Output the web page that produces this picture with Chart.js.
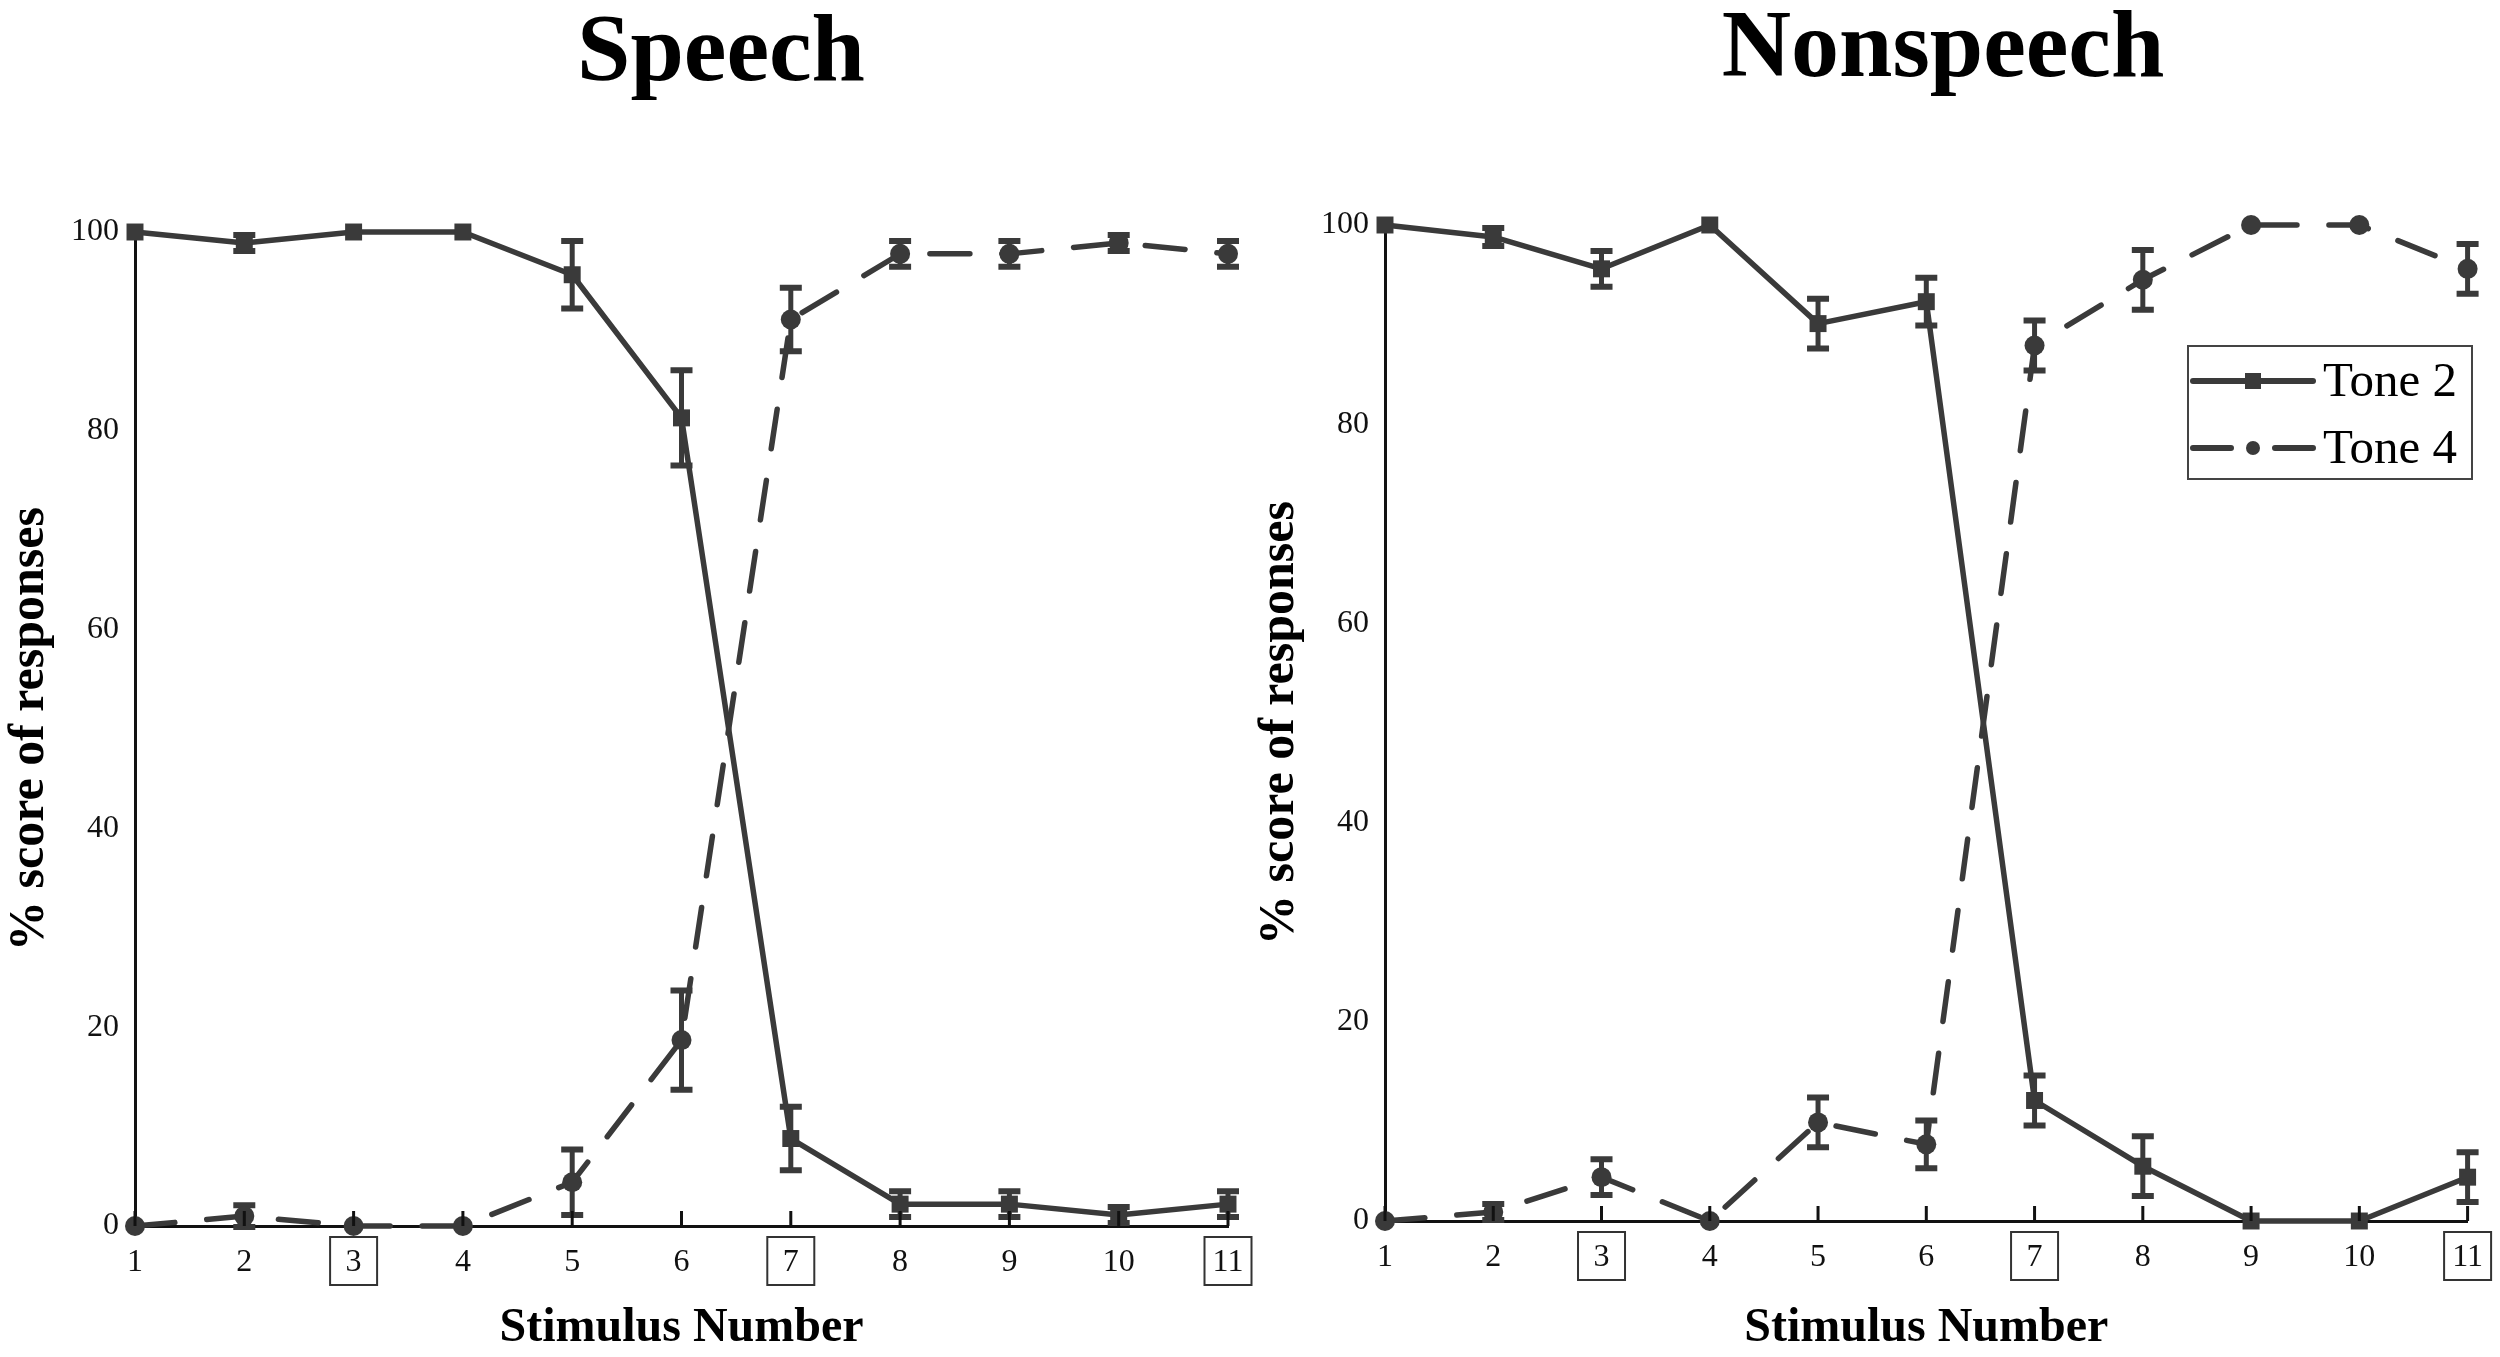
<!DOCTYPE html>
<html>
<head>
<meta charset="utf-8">
<script src="https://cdn.jsdelivr.net/npm/chart.js@4.4.1/dist/chart.umd.min.js"></script>
<style>
  html, body { margin: 0; padding: 0; background: #ffffff; }
  body { width: 2500px; height: 1357px; overflow: hidden; position: relative; font-family: "Liberation Serif", "Times New Roman", serif; }
  .title { position: absolute; font-weight: bold; font-size: 96px; line-height: 1; color: #000; white-space: nowrap; transform: translateX(-50%); }
  canvas { position: absolute; top: 0; }
</style>
</head>
<body>
<div class="title" id="t1" style="left:721px; top:0px;">Speech</div>
<div class="title" id="t2" style="left:1943px; top:-4px;">Nonspeech</div>
<canvas id="c1" width="1262" height="1357" style="left:0px;"></canvas>
<canvas id="c2" width="1250" height="1357" style="left:1250px;"></canvas>
<script>
// ---------- data ----------
const stimuli = [1, 2, 3, 4, 5, 6, 7, 8, 9, 10, 11];
const boxedStimuli = [3, 7, 11];
const yTicks = [0, 20, 40, 60, 80, 100];
const seriesNames = ['Tone 2', 'Tone 4'];
const panelTitles = ['Speech', 'Nonspeech'];

const speechTone2    = [100, 98.9, 100, 100, 95.7, 81.3, 8.8, 2.2, 2.2, 1.1, 2.2];
const speechTone2Err = [0, 0.8, 0, 0, 3.4, 4.8, 3.2, 1.3, 1.3, 0.8, 1.3];
const speechTone4    = [0, 1.0, 0, 0, 4.4, 18.7, 91.2, 97.8, 97.8, 98.9, 97.8];
const speechTone4Err = [0, 1.1, 0, 0, 3.3, 5.0, 3.2, 1.3, 1.3, 0.8, 1.3];

const nonTone2    = [100, 98.8, 95.6, 100, 90.1, 92.3, 12.1, 5.5, 0, 0, 4.4];
const nonTone2Err = [0, 0.9, 1.8, 0, 2.5, 2.4, 2.5, 3.0, 0, 0, 2.5];
const nonTone4    = [0, 0.9, 4.4, 0, 9.9, 7.7, 87.9, 94.5, 100, 100, 95.6];
const nonTone4Err = [0, 0.8, 1.8, 0, 2.5, 2.4, 2.5, 3.0, 0, 0, 2.5];

// ---------- styles ----------
const INK = '#3a3a3a';
const AXIS = '#111111';
const SERIF = "'Liberation Serif', 'Times New Roman', serif";
const DASH = [40, 32];

function pts(vals) { return stimuli.map((s, i) => ({ x: s, y: vals[i] })); }

const errorBarPlugin = {
  id: 'errorBars',
  beforeDatasetsDraw(chart) {
    const ctx = chart.ctx, ys = chart.scales.y;
    chart.data.datasets.forEach((ds, di) => {
      const meta = chart.getDatasetMeta(di);
      if (!ds.errors) return;
      ctx.save();
      ctx.strokeStyle = INK;
      ctx.lineCap = 'butt';
      meta.data.forEach((el, j) => {
        const e = ds.errors[j];
        if (!e) return;
        const v = ds.data[j].y;
        const yTop = ys.getPixelForValue(v + e);
        const yBot = ys.getPixelForValue(v - e);
        ctx.lineWidth = 5;
        ctx.beginPath(); ctx.moveTo(el.x, yTop); ctx.lineTo(el.x, yBot); ctx.stroke();
        ctx.lineWidth = 6;
        ctx.beginPath();
        ctx.moveTo(el.x - 11, yTop); ctx.lineTo(el.x + 11, yTop);
        ctx.moveTo(el.x - 11, yBot); ctx.lineTo(el.x + 11, yBot);
        ctx.stroke();
      });
      ctx.restore();
    });
  }
};

const axisDecorPlugin = {
  id: 'axisDecor',
  afterDraw(chart) {
    const ctx = chart.ctx, xs = chart.scales.x, area = chart.chartArea;
    ctx.save();
    // inward tick marks on x axis
    ctx.strokeStyle = AXIS; ctx.lineWidth = 3;
    stimuli.forEach(s => {
      const x = xs.getPixelForValue(s);
      ctx.beginPath(); ctx.moveTo(x, area.bottom); ctx.lineTo(x, area.bottom - 15); ctx.stroke();
    });
    // boxes around highlighted stimulus labels
    ctx.strokeStyle = '#333333'; ctx.lineWidth = 2;
    boxedStimuli.forEach(s => {
      const x = xs.getPixelForValue(s);
      ctx.strokeRect(x - 23.5, area.bottom + 11, 47, 48);
    });
    ctx.restore();
  }
};

const customLegendPlugin = {
  id: 'customLegend',
  afterDraw(chart, args, opts) {
    if (!opts.show) return;
    const ctx = chart.ctx;
    const bx = opts.x, by = opts.y, bw = 284, bh = 133;
    ctx.save();
    ctx.strokeStyle = '#444444'; ctx.lineWidth = 2;
    ctx.strokeRect(bx, by, bw, bh);
    const l0 = bx + 5, l1 = bx + 125, mid = bx + 65;
    const r1 = by + 35, r2 = by + 102;
    ctx.strokeStyle = INK; ctx.fillStyle = INK; ctx.lineWidth = 6; ctx.lineCap = 'round';
    // Tone 2: solid + square
    ctx.beginPath(); ctx.moveTo(l0, r1); ctx.lineTo(l1, r1); ctx.stroke();
    ctx.fillRect(mid - 8, r1 - 8, 16, 16);
    // Tone 4: dashed + circle
    ctx.beginPath(); ctx.moveTo(l0, r2); ctx.lineTo(l0 + 38, r2); ctx.moveTo(l1 - 38, r2); ctx.lineTo(l1, r2); ctx.stroke();
    ctx.beginPath(); ctx.arc(mid, r2, 7, 0, Math.PI * 2); ctx.fill();
    ctx.fillStyle = '#000'; ctx.font = "49px " + SERIF; ctx.textBaseline = 'middle'; ctx.textAlign = 'left';
    ctx.fillText(seriesNames[0], l1 + 10, r1 + 2);
    ctx.fillText(seriesNames[1], l1 + 10, r2 + 2);
    ctx.restore();
  }
};

function makeChart(id, tone2, tone2Err, tone4, tone4Err, pad, xHeight, legend) {
  return new Chart(document.getElementById(id), {
    type: 'line',
    data: {
      datasets: [
        {
          label: seriesNames[0], data: pts(tone2), errors: tone2Err,
          borderColor: INK, backgroundColor: INK, borderWidth: 5.5,
          pointStyle: 'rect', pointRadius: 12, pointBackgroundColor: INK, pointBorderWidth: 0,
          tension: 0, clip: false, borderJoinStyle: 'round'
        },
        {
          label: seriesNames[1], data: pts(tone4), errors: tone4Err,
          borderColor: INK, backgroundColor: INK, borderWidth: 5.5, borderDash: DASH, borderCapStyle: 'round',
          pointStyle: 'circle', pointRadius: 10, pointBackgroundColor: INK, pointBorderWidth: 0,
          tension: 0, clip: false
        }
      ]
    },
    options: {
      responsive: false, animation: false, devicePixelRatio: 1,
      layout: { padding: pad },
      plugins: {
        legend: { display: false }, tooltip: { enabled: false }, title: { display: false },
        customLegend: legend
      },
      scales: {
        x: {
          type: 'linear', min: 1, max: 11,
          afterBuildTicks: s => { s.ticks = stimuli.map(v => ({ value: v })); },
          ticks: { font: { family: SERIF, size: 32 }, color: '#111', padding: 17, maxRotation: 0, autoSkip: false },
          grid: { display: false, drawTicks: false },
          border: { display: true, color: AXIS, width: 3 },
          title: { display: true, text: 'Stimulus Number', font: { family: SERIF, size: 48, weight: 'bold' }, color: '#000', padding: 0 },
          afterFit: s => { s.height = xHeight; }
        },
        y: {
          min: 0, max: 100,
          afterBuildTicks: s => { s.ticks = yTicks.map(v => ({ value: v })); },
          ticks: { font: { family: SERIF, size: 32 }, color: '#111', padding: 16 },
          grid: { display: false, drawTicks: false },
          border: { display: true, color: AXIS, width: 3 },
          title: { display: true, text: '% score of responses', font: { family: SERIF, size: 50, weight: 'bold' }, color: '#000', padding: 0 },
          afterFit: s => { s.width = 135; }
        }
      }
    },
    plugins: [errorBarPlugin, axisDecorPlugin, customLegendPlugin]
  });
}

makeChart('c1', speechTone2, speechTone2Err, speechTone4, speechTone4Err,
  { left: 0, right: 34, top: 232, bottom: 0 }, 131, { show: false });
makeChart('c2', nonTone2, nonTone2Err, nonTone4, nonTone4Err,
  { left: 0, right: 32, top: 225, bottom: 0 }, 136, { show: true, x: 938, y: 346 });
</script>
</body>
</html>
